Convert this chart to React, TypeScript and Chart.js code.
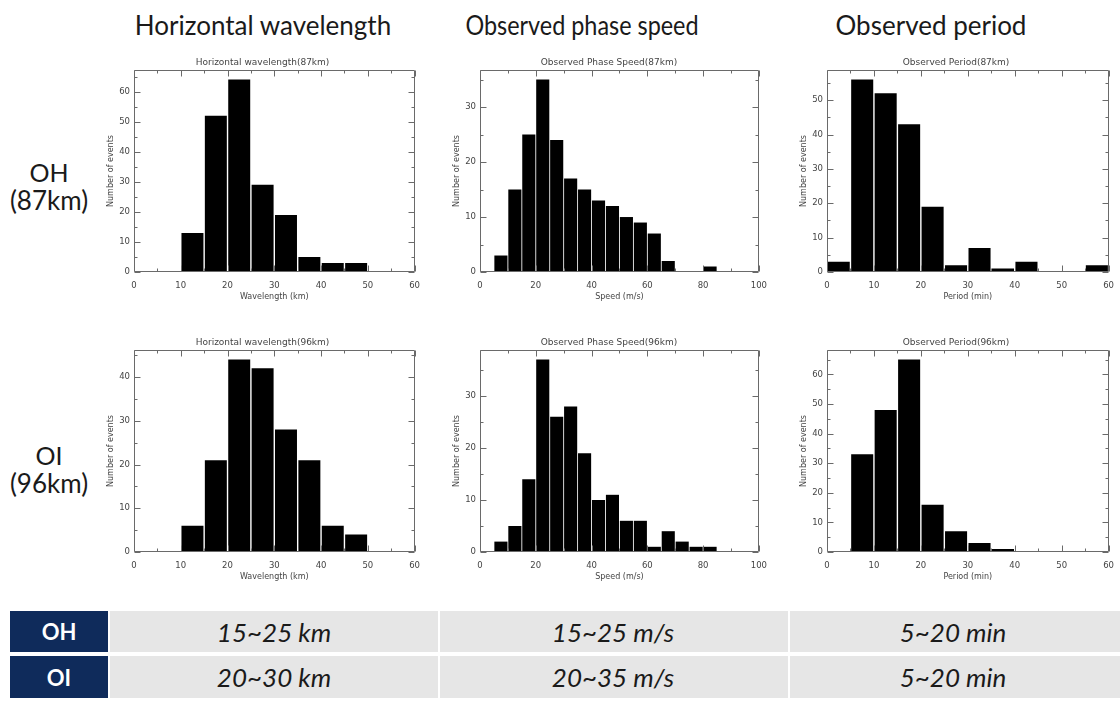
import React, { useEffect, useRef } from 'react';
import { Chart, registerables } from 'chart.js';
Chart.register(...registerables);

// ---------- DATA ----------
const wavelengthBins = [12.5, 17.5, 22.5, 27.5, 32.5, 37.5, 42.5, 47.5];
const ohWavelength = [13, 52, 64, 29, 19, 5, 3, 3];
const oiWavelength = [6, 21, 44, 42, 28, 21, 6, 4];

const speedBins = [7.5, 12.5, 17.5, 22.5, 27.5, 32.5, 37.5, 42.5, 47.5, 52.5, 57.5, 62.5, 67.5, 72.5, 77.5, 82.5];
const ohSpeed = [3, 15, 25, 35, 24, 17, 15, 13, 12, 10, 9, 7, 2, 0, 0, 1];
const oiSpeed = [2, 5, 14, 37, 26, 28, 19, 10, 11, 6, 6, 1, 4, 2, 1, 1];

const periodBins = [2.5, 7.5, 12.5, 17.5, 22.5, 27.5, 32.5, 37.5, 42.5, 47.5, 52.5, 57.5];
const ohPeriod = [3, 56, 52, 43, 19, 2, 7, 1, 3, 0, 0, 2];
const oiPeriod = [0, 33, 48, 65, 16, 7, 3, 1, 0, 0, 0, 0];

const columnHeaders = ['Horizontal wavelength', 'Observed phase speed', 'Observed period'];
const rowLabels = [['OH', '(87km)'], ['OI', '(96km)']];
const panelTitles = [
  ['Horizontal wavelength(87km)', 'Observed Phase Speed(87km)', 'Observed Period(87km)'],
  ['Horizontal wavelength(96km)', 'Observed Phase Speed(96km)', 'Observed Period(96km)'],
];
const xTitles = ['Wavelength (km)', 'Speed (m/s)', 'Period (min)'];
const yTitle = 'Number of events';
const xMax = [60, 100, 60];
const xStep = [10, 20, 10];
const tableRows = ['OH', 'OI'];
const tableValues = [
  ['15~25 km', '15~25 m/s', '5~20 min'],
  ['20~30 km', '20~35 m/s', '5~20 min'],
];

const binsByCol = [wavelengthBins, speedBins, periodBins];
const valuesByRow = [
  [ohWavelength, ohSpeed, ohPeriod],
  [oiWavelength, oiSpeed, oiPeriod],
];

// ---------- LAYOUT ----------
const colPlot = [
  [134, 419],
  [480, 766],
  [827, 1113],
];
const rowPlot = [
  [70, 272],
  [350, 552],
];
const Y_W = 28;
const X_H = 30;
const TITLE_H = 14;
const R_PAD = 10;

const idlFrame = {
  id: 'idlFrame',
  afterDatasetsDraw(chart: any, _args: any, opts: any) {
    const { ctx, chartArea: a, scales } = chart;
    const x = scales.x;
    const y = scales.y;
    ctx.save();
    ctx.strokeStyle = '#6a6a6a';
    ctx.lineWidth = 1;
    const L = Math.round(a.left) + 0.5;
    const Rr = Math.round(a.right) - 0.5;
    const T = Math.round(a.top) + 0.5;
    const B = Math.round(a.bottom) - 0.5;
    ctx.beginPath();
    ctx.rect(L, T, Rr - L, B - T);
    ctx.stroke();
    ctx.beginPath();
    const xs = opts.xStep;
    for (let v = 0; v <= x.max + 1e-9; v += xs / 2) {
      const px = Math.round(x.getPixelForValue(v)) + 0.5;
      const major = Math.abs(v / xs - Math.round(v / xs)) < 1e-6;
      const len = major ? 6 : 3;
      ctx.moveTo(px, B);
      ctx.lineTo(px, B - len);
      ctx.moveTo(px, T);
      ctx.lineTo(px, T + len);
    }
    const ys = opts.yStep;
    for (let v = 0; v <= y.max + 1e-9; v += ys / 2) {
      const py = Math.round(y.getPixelForValue(v)) + 0.5;
      const major = Math.abs(v / ys - Math.round(v / ys)) < 1e-6;
      const len = major ? 6 : 3;
      ctx.moveTo(L, py);
      ctx.lineTo(L + len, py);
      ctx.moveTo(Rr, py);
      ctx.lineTo(Rr - len, py);
    }
    ctx.stroke();
    ctx.restore();
  },
};

function Histogram({ row, col }: { row: number; col: number }) {
  const ref = useRef<HTMLCanvasElement | null>(null);
  const [pl, pr] = colPlot[col];
  const [pt, pb] = rowPlot[row];
  const left = pl - Y_W;
  const width = pr - pl + Y_W + R_PAD;
  const top = pt - TITLE_H;
  const height = pb - pt + TITLE_H + X_H;

  useEffect(() => {
    if (!ref.current) return;
    const bins = binsByCol[col];
    const vals = valuesByRow[row][col];
    const yMax = Math.max(...vals) * 1.05;
    const step = xStep[col];
    const chart = new Chart(ref.current, {
      type: 'bar',
      data: {
        datasets: [
          {
            data: bins.map((b, i) => ({ x: b, y: vals[i] })),
            backgroundColor: '#000000',
            borderWidth: 0,
            barPercentage: 0.94,
            categoryPercentage: 1,
          },
        ],
      },
      options: {
        animation: false,
        responsive: false,
        maintainAspectRatio: false,
        layout: { padding: { left: 0, right: R_PAD, top: 0, bottom: 0 } },
        plugins: {
          legend: { display: false },
          tooltip: { enabled: false },
          title: {
            display: true,
            text: panelTitles[row][col],
            color: '#444',
            font: { family: 'DejaVu Sans', size: 9, lineHeight: 1.2, weight: 'normal' },
            padding: { top: 1.2, bottom: 2 },
          },
          idlFrame: { xStep: step, yStep: 10 },
        } as any,
        scales: {
          x: {
            type: 'linear',
            min: 0,
            max: xMax[col],
            offset: false,
            grid: { display: false, drawTicks: false },
            border: { display: false },
            ticks: {
              stepSize: step,
              padding: 9,
              color: '#444',
              font: { family: 'DejaVu Sans', size: 8.5 },
              maxRotation: 0,
              autoSkip: false,
            },
            title: {
              display: true,
              text: xTitles[col],
              color: '#444',
              font: { family: 'DejaVu Sans', size: 8, lineHeight: 1.2 },
              padding: 0,
            },
            afterFit: (s: any) => {
              s.height = X_H;
            },
          },
          y: {
            type: 'linear',
            min: 0,
            max: yMax,
            grid: { display: false, drawTicks: false },
            border: { display: false },
            ticks: {
              stepSize: 10,
              padding: 4,
              color: '#444',
              font: { family: 'DejaVu Sans', size: 8.5 },
            },
            afterBuildTicks: (s: any) => {
              s.ticks = s.ticks.filter((t: any) => Math.abs(t.value % 10) < 1e-6);
            },
            title: {
              display: true,
              text: yTitle,
              color: '#444',
              font: { family: 'DejaVu Sans', size: 8, lineHeight: 1.2 },
              padding: 0,
            },
            afterFit: (s: any) => {
              s.width = Y_W;
            },
          },
        },
      } as any,
      plugins: [idlFrame],
    });
    return () => chart.destroy();
  }, [row, col]);

  return (
    <canvas
      ref={ref}
      width={width}
      height={height}
      style={{ position: 'absolute', left, top, width, height }}
    />
  );
}

const headerCenters = [263, 582, 931];
const headerScaleX = [1.0, 0.9, 1.0];
const tableCenters = [274, 613, 953];

export default function App() {
  const big: React.CSSProperties = {
    position: 'absolute',
    fontFamily: 'Lato, "Open Sans", sans-serif',
    color: '#1a1a1a',
    whiteSpace: 'nowrap',
    transform: 'translate(-50%, -50%)',
    lineHeight: 1,
    fontWeight: 400,
  };
  return (
    <div
      style={{
        position: 'absolute',
        left: 0,
        top: 0,
        width: 1120,
        height: 702,
        background: '#ffffff',
        overflow: 'hidden',
      }}
    >
      {columnHeaders.map((h, i) => (
        <div
          key={h}
          style={{
            ...big,
            left: headerCenters[i],
            top: 25,
            fontSize: 26,
            transform: `translate(-50%, -50%) scaleX(${headerScaleX[i]})`,
          }}
        >
          {h}
        </div>
      ))}
      {rowLabels.map((lab, r) => (
        <React.Fragment key={lab[0]}>
          <div style={{ ...big, left: 49, top: r === 0 ? 172 : 455, fontSize: 25 }}>{lab[0]}</div>
          <div style={{ ...big, left: 49, top: r === 0 ? 200 : 483, fontSize: 26 }}>{lab[1]}</div>
        </React.Fragment>
      ))}
      {[0, 1].map((r) => [0, 1, 2].map((c) => <Histogram key={`${r}-${c}`} row={r} col={c} />))}
      {tableRows.map((name, r) => {
        const top = r === 0 ? 611 : 656;
        const h = r === 0 ? 41 : 42;
        return (
          <React.Fragment key={name}>
            <div
              style={{
                position: 'absolute',
                left: 10,
                top,
                width: 98,
                height: h,
                background: '#0f2b5b',
                color: '#fff',
                fontFamily: 'Lato, sans-serif',
                fontWeight: 700,
                fontSize: 22,
                display: 'flex',
                alignItems: 'center',
                justifyContent: 'center',
              }}
            >
              {name}
            </div>
            {[
              [110, 438],
              [440, 788],
              [790, 1120],
            ].map(([l, rr], c) => (
              <div
                key={c}
                style={{
                  position: 'absolute',
                  left: l,
                  top,
                  width: rr - l,
                  height: h,
                  background: '#e6e6e6',
                }}
              />
            ))}
            {tableValues[r].map((t, c) => (
              <div
                key={t + c}
                style={{
                  ...big,
                  left: tableCenters[c],
                  top: top + h / 2,
                  fontSize: 26,
                  fontStyle: 'italic',
                }}
              >
                {t}
              </div>
            ))}
          </React.Fragment>
        );
      })}
    </div>
  );
}
